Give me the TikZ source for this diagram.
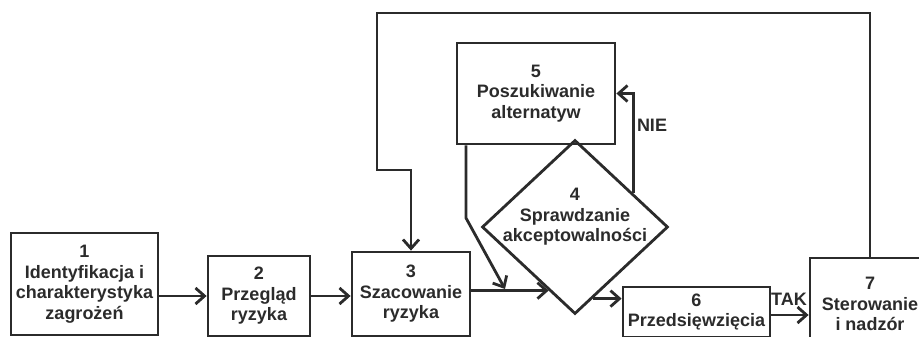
\documentclass[tikz,border=0pt]{standalone}
\usepackage{fontspec}
\setmainfont{Liberation Sans}
\usetikzlibrary{arrows.meta,calc,shapes.geometric}
\definecolor{ink}{HTML}{2B2B2B}
\begin{document}
\begin{tikzpicture}[x=1pt,y=-1pt,
  every node/.style={font=\fontsize{18}{20.5}\selectfont\bfseries, text=ink},
  box/.style={draw=ink, line width=2.8pt, rectangle, inner sep=0pt, align=center},
  conn/.style={draw=ink, line width=2.8pt},
  arr/.style={conn, -{Straight Barb[length=9pt,width=16pt]}},
  lbl/.style={inner sep=0pt}]
\useasboundingbox (0,0) rectangle (919,337);
\fill[white] (0,0) rectangle (919,337);
\clip (0,0) rectangle (919,337);

\node[box, minimum width=147pt, minimum height=102pt] (b1) at (84.5,284) {1\\Identyfikacja i\\charakterystyka\\zagrożeń};
\node[box, minimum width=102pt, minimum height=80pt] (b2) at (259,296) {2\\Przegląd\\ryzyka};
\node[box, minimum width=118pt, minimum height=84pt] (b3) at (411,294) {3\\Szacowanie\\ryzyka};
\node[box, minimum width=158pt, minimum height=101pt] (b5) at (536,93.5) {5\\Poszukiwanie\\alternatyw};
\node[draw=ink, line width=2.8pt, diamond, minimum width=186pt, minimum height=174pt, inner sep=0pt] (d4) at (575,227) {};
\node[align=center, lbl] (t4) at (575,217) {4\\Sprawdzanie\\akceptowalności};
\node[box, minimum width=147pt, minimum height=50pt] (b6) at (696.5,312) {6\\Przedsięwzięcia};
\node[box, minimum width=120pt, minimum height=92pt] (b7) at (870,304) {7\\Sterowanie\\i nadzór};

\draw[arr] (b1.east |- b2) -- (b2.west);
\draw[arr] (b2.east) -- (b2.east -| b3.west);

\coordinate (d4in) at ($(d4.west)!0.72!(d4.south)$);
\draw[arr] (b3.east |- d4in) -- (d4in);

\coordinate (k1) at (466,218);
\coordinate (m) at (505,289);
\draw[arr] (b5.south -| k1) -- (k1) -- (m);

\coordinate (d4out) at ($(d4.south)!0.19!(d4.east)$);
\draw[arr] (d4out) -- (d4out -| b6.west);

\draw[arr] ([yshift=-3pt]b6.east) -- ([yshift=-3pt]b6.east -| b7.west);
\node[lbl] (tak) at (789,299) {TAK};

\coordinate (d4nie) at ($(d4.north)!0.62!(d4.east)$);
\draw[arr] (d4nie) |- (b5.east);
\node[lbl] (nie) at (652,125) {NIE};

\coordinate (f1) at (377,13);
\coordinate (f2) at (377,170);
\draw[arr] (b7.north) |- (f1) -- (f2) -| (b3.north);
\end{tikzpicture}
\end{document}
